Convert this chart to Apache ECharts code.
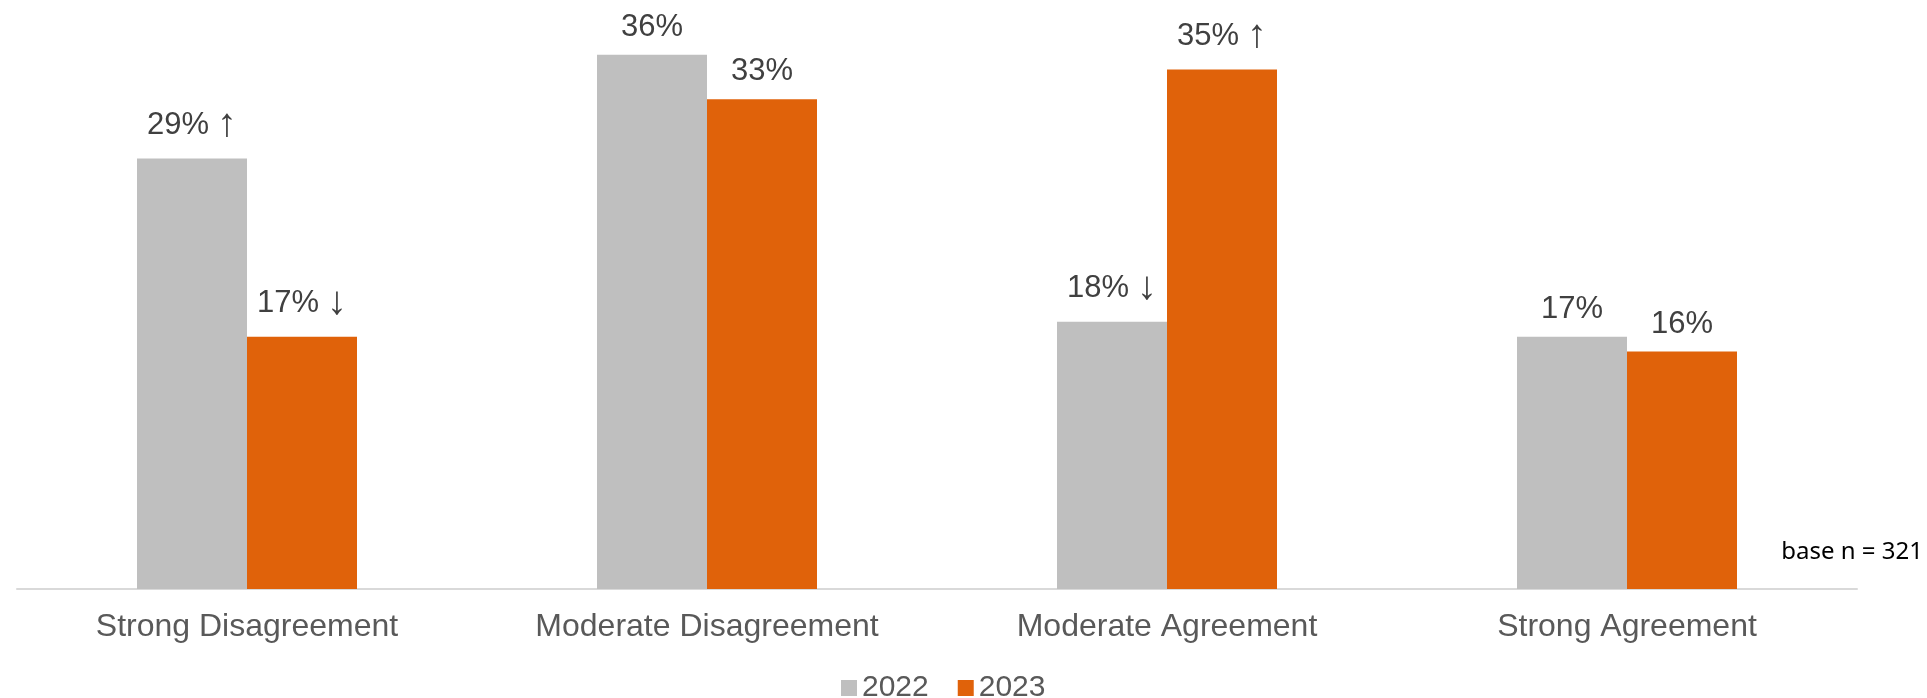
<!DOCTYPE html>
<html>
<head>
<meta charset="utf-8">
<title>Agreement 2022 vs 2023</title>
<script src="https://cdn.jsdelivr.net/npm/echarts@6/dist/echarts.min.js"></script>
<style>
  html, body { margin: 0; padding: 0; background: #ffffff; }
  #chart { width: 1927px; height: 698px; }
</style>
</head>
<body>
<div id="chart"></div>
<script>
// Response categories along the x axis
const categories = ['Strong Disagreement', 'Moderate Disagreement', 'Moderate Agreement', 'Strong Agreement'];

// Share of respondents (%) per year
const values2022 = [29, 36, 18, 17];
const values2023 = [17, 33, 35, 16];

// Significance markers shown after each value label
const marks2022 = ['↑', '', '↓', ''];
const marks2023 = ['↓', '', '↑', ''];

const seriesNames = ['2022', '2023'];
const baseNote = 'base n = 321';

const chart = echarts.init(document.getElementById('chart'));

function valueLabel(marks) {
  return {
    show: true,
    position: 'top',
    distance: 12,
    fontFamily: 'Liberation Sans, Arial, sans-serif',
    fontSize: 31,
    color: '#404040',
    formatter: p => {
      const m = marks[p.dataIndex];
      return '{v|' + p.value + '%}' + (m ? '{a|' + m + '}' : '');
    },
    rich: {
      v: { fontFamily: 'Liberation Sans, Arial, sans-serif', fontSize: 31, color: '#404040' },
      a: {
        fontFamily: 'Liberation Sans, Arial, sans-serif',
        fontSize: 40,
        color: '#404040',
        padding: [0, 0, 2, 8]
      }
    }
  };
}

chart.setOption({
  backgroundColor: '#ffffff',
  animation: false,
  grid: { left: 17, right: 70, top: 25, bottom: 109, containLabel: false },
  legend: {
    data: seriesNames,
    left: 836,
    top: 668,
    itemWidth: 16,
    itemHeight: 16,
    itemGap: 29,
    icon: 'rect',
    textStyle: { fontFamily: 'Liberation Sans, Arial, sans-serif', fontSize: 30, color: '#595959' }
  },
  xAxis: {
    type: 'category',
    data: categories,
    axisLine: { show: true, lineStyle: { color: '#d9d9d9', width: 2 } },
    axisTick: { show: false },
    axisLabel: {
      margin: 22,
      fontFamily: 'Liberation Sans, Arial, sans-serif',
      fontSize: 32,
      color: '#595959'
    }
  },
  yAxis: {
    type: 'value',
    min: 0,
    max: 38,
    show: false,
    splitLine: { show: false }
  },
  series: [
    {
      name: seriesNames[0],
      type: 'bar',
      data: values2022,
      barWidth: 110,
      barGap: '0%',
      itemStyle: { color: '#bfbfbf' },
      label: valueLabel(marks2022)
    },
    {
      name: seriesNames[1],
      type: 'bar',
      data: values2023,
      barWidth: 110,
      barGap: '0%',
      itemStyle: { color: '#e0620a' },
      label: valueLabel(marks2023)
    }
  ],
  graphic: [
    {
      type: 'text',
      right: 4,
      top: 540,
      style: {
        text: baseNote,
        fontFamily: 'Noto Sans, sans-serif',
        fontSize: 24,
        fill: '#000000'
      }
    }
  ]
});
</script>
</body>
</html>
